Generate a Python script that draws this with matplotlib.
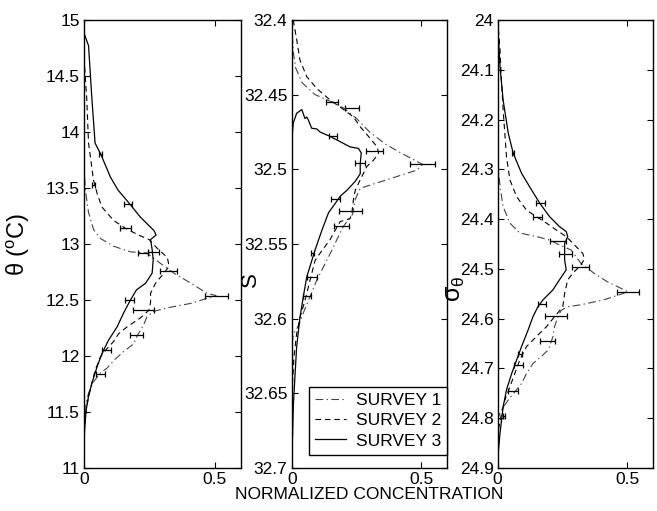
'''
Normalized concentration profiles vs theta, S and sigma-theta
'''

import matplotlib
matplotlib.use('Agg')
import matplotlib.pyplot as plt

plt.rcParams['font.family'] = ['Liberation Sans', 'DejaVu Sans']
plt.rcParams['mathtext.fontset'] = 'custom'
plt.rcParams['mathtext.rm'] = 'Liberation Sans'
plt.rcParams['mathtext.it'] = 'Liberation Sans'

SURVEYS = ['SURVEY 1', 'SURVEY 2', 'SURVEY 3']

# ---- potential temperature panel ----
theta1_y = [15.0, 14.0, 13.6, 13.5, 13.28, 13.13, 13.05, 12.98, 12.93, 12.92, 12.83,
            12.74, 12.65, 12.56, 12.54, 12.47, 12.43, 12.40, 12.35, 12.28, 12.19,
            12.11, 12.04, 11.96, 11.89, 11.85, 11.77, 11.67, 11.55, 11.4, 11.0]
theta1_x = [0.0, 0.0, 0.002, 0.004, 0.017, 0.036, 0.062, 0.113, 0.177, 0.24, 0.29,
            0.343, 0.408, 0.47, 0.504, 0.408, 0.318, 0.267, 0.24, 0.228, 0.205,
            0.19, 0.151, 0.113, 0.087, 0.062, 0.036, 0.017, 0.004, 0.0, 0.0]
theta2_y = [15.0, 14.7, 14.58, 14.3, 13.9, 13.57, 13.45, 13.33, 13.21, 13.14, 13.08,
            13.04, 12.96, 12.88, 12.8, 12.74, 12.65, 12.56, 12.48, 12.41, 12.34,
            12.26, 12.2, 12.13, 12.06, 11.99, 11.87, 11.76, 11.64, 11.52, 11.3, 11.0]
theta2_x = [0.0, 0.0, 0.002, 0.01, 0.017, 0.036, 0.05, 0.068, 0.113, 0.158, 0.208,
            0.248, 0.28, 0.318, 0.325, 0.305, 0.273, 0.254, 0.254, 0.248, 0.215,
            0.164, 0.132, 0.113, 0.085, 0.062, 0.042, 0.03, 0.017, 0.008, 0.0, 0.0]
theta3_y = [15.0, 14.88, 14.77, 14.29, 13.9, 13.8, 13.6, 13.48, 13.37, 13.24, 13.12,
            13.08, 13.04, 12.95, 12.86, 12.74, 12.65, 12.59, 12.5, 12.38, 12.26,
            12.14, 12.02, 11.9, 11.76, 11.64, 11.52, 11.35, 11.2, 11.0]
theta3_x = [0.0, 0.0, 0.017, 0.03, 0.042, 0.064, 0.1, 0.13, 0.17, 0.215, 0.267,
            0.275, 0.254, 0.26, 0.264, 0.26, 0.235, 0.2, 0.177, 0.15, 0.126,
            0.093, 0.068, 0.049, 0.03, 0.017, 0.008, 0.002, 0.0, 0.0]
theta_err = [
    ([0.505, 0.225, 0.2, 0.063], [12.54, 12.92, 12.19, 11.84], [0.043, 0.02, 0.026, 0.017]),
    ([0.036, 0.158, 0.323, 0.228], [13.53, 13.14, 12.76, 12.41], [0.005, 0.02, 0.033, 0.041]),
    ([0.064, 0.168, 0.265, 0.174, 0.085], [13.8, 13.36, 12.93, 12.5, 12.05],
     [0.006, 0.014, 0.022, 0.016, 0.017]),
]

# ---- salinity panel ----
sal1_y = [32.4, 32.42, 32.432, 32.442, 32.45, 32.455, 32.459, 32.466, 32.475, 32.483,
          32.489, 32.4967, 32.5005, 32.5127, 32.52, 32.53, 32.538, 32.547, 32.552,
          32.561, 32.574, 32.585, 32.596, 32.605, 32.61, 32.62, 32.7]
sal1_x = [0.0, 0.005, 0.015, 0.04, 0.09, 0.155, 0.2, 0.25, 0.3, 0.36,
          0.42, 0.504, 0.483, 0.264, 0.245, 0.235, 0.2, 0.174, 0.161,
          0.135, 0.097, 0.071, 0.045, 0.026, 0.006, 0.0, 0.0]
sal2_y = [32.4, 32.413, 32.427, 32.438, 32.446, 32.4536, 32.46, 32.465, 32.4715, 32.478,
          32.485, 32.489, 32.494, 32.498, 32.507, 32.514, 32.52, 32.529, 32.533, 32.535,
          32.541, 32.547, 32.556, 32.561, 32.574, 32.588, 32.599, 32.61, 32.625, 32.64,
          32.65, 32.7]
sal2_x = [0.006, 0.019, 0.032, 0.058, 0.097, 0.148, 0.2, 0.238, 0.264, 0.296,
          0.329, 0.335, 0.315, 0.29, 0.264, 0.245, 0.238, 0.232, 0.225, 0.187,
          0.167, 0.148, 0.11, 0.09, 0.071, 0.051, 0.032, 0.019, 0.009, 0.004,
          0.0, 0.0]
sal3_y = [32.482, 32.475, 32.469, 32.4625, 32.46, 32.466, 32.465, 32.467, 32.4725, 32.473,
          32.475, 32.478, 32.4815, 32.485, 32.486, 32.489, 32.496, 32.503, 32.508, 32.514,
          32.518, 32.523, 32.529, 32.541, 32.554, 32.572, 32.585, 32.599, 32.608, 32.619,
          32.637, 32.659, 32.68, 32.7]
sal3_x = [0.0, 0.003, 0.006, 0.019, 0.039, 0.051, 0.058, 0.064, 0.077, 0.097,
          0.109, 0.148, 0.187, 0.225, 0.257, 0.268, 0.264, 0.264, 0.245, 0.213,
          0.187, 0.167, 0.142, 0.116, 0.09, 0.058, 0.045, 0.032, 0.026, 0.019,
          0.013, 0.006, 0.003, 0.0]
sal_err = [
    ([0.155, 0.504, 0.192, 0.06], [32.4547, 32.4967, 32.538, 32.585], [0.022, 0.047, 0.029, 0.016]),
    ([0.232, 0.32, 0.227, 0.078], [32.459, 32.488, 32.528, 32.572], [0.028, 0.032, 0.043, 0.02]),
    ([0.16, 0.262, 0.17, 0.08], [32.478, 32.496, 32.52, 32.556], [0.016, 0.02, 0.018, 0.005]),
]

# ---- sigma-theta panel ----
sig1_y = [24.0, 24.29, 24.335, 24.375, 24.408, 24.428, 24.435, 24.442, 24.452, 24.462,
          24.489, 24.509, 24.526, 24.542, 24.546, 24.562, 24.572, 24.576, 24.583, 24.596,
          24.616, 24.636, 24.656, 24.663, 24.676, 24.69, 24.71, 24.73, 24.747, 24.763,
          24.783, 24.8, 24.9]
sig1_x = [0.0, 0.002, 0.009, 0.021, 0.047, 0.085, 0.149, 0.2, 0.238, 0.283,
          0.321, 0.372, 0.423, 0.487, 0.502, 0.41, 0.321, 0.27, 0.245, 0.232,
          0.219, 0.213, 0.2, 0.194, 0.168, 0.136, 0.111, 0.092, 0.066, 0.041,
          0.015, 0.0, 0.0]
sig2_y = [24.0, 24.06, 24.127, 24.18, 24.275, 24.321, 24.355, 24.382, 24.395, 24.408,
          24.422, 24.435, 24.455, 24.469, 24.48, 24.492, 24.509, 24.522, 24.549, 24.576,
          24.596, 24.616, 24.636, 24.656, 24.683, 24.71, 24.737, 24.763, 24.79, 24.83, 24.9]
sig2_x = [0.0, 0.009, 0.015, 0.021, 0.034, 0.047, 0.073, 0.111, 0.149, 0.188,
          0.226, 0.264, 0.302, 0.328, 0.334, 0.321, 0.289, 0.27, 0.258, 0.251,
          0.219, 0.188, 0.149, 0.111, 0.085, 0.066, 0.047, 0.028, 0.015, 0.0, 0.0]
sig3_y = [24.0, 24.027, 24.094, 24.161, 24.228, 24.268, 24.308, 24.341, 24.368, 24.395,
          24.415, 24.425, 24.435, 24.449, 24.455, 24.482, 24.502, 24.522, 24.542, 24.562,
          24.576, 24.596, 24.623, 24.656, 24.683, 24.71, 24.743, 24.777, 24.83, 24.87, 24.9]
sig3_x = [0.0, 0.002, 0.009, 0.021, 0.041, 0.06, 0.092, 0.13, 0.162, 0.2,
          0.238, 0.264, 0.27, 0.258, 0.258, 0.258, 0.264, 0.238, 0.213, 0.175,
          0.155, 0.136, 0.117, 0.092, 0.073, 0.054, 0.034, 0.021, 0.009, 0.002, 0.0]
sig_err = [
    ([0.232, 0.502, 0.192, 0.059], [24.443, 24.546, 24.645, 24.745], [0.032, 0.043, 0.027, 0.02]),
    ([0.153, 0.318, 0.226, 0.081], [24.395, 24.496, 24.594, 24.693], [0.017, 0.032, 0.042, 0.017]),
    ([0.06, 0.164, 0.262, 0.171, 0.085, 0.025], [24.268, 24.368, 24.47, 24.57, 24.67, 24.796],
     [0.004, 0.017, 0.024, 0.016, 0.008, 0.005]),
]

LINE_STYLES = [
    dict(color='#444444', linestyle=(0, (7, 3, 1.2, 3)), linewidth=0.8),
    dict(color='black', linestyle=(0, (5, 3.5)), linewidth=0.8),
    dict(color='black', linestyle='-', linewidth=0.9),
]


def draw_panel(ax, profiles, errors, ylim, yticks, yticklabels):
    '''
    Draw the three survey profiles with their error bars on one axis
    '''
    for (xs, ys), (ex, ey, ew), style, label in zip(profiles, errors, LINE_STYLES, SURVEYS):
        ax.plot(xs, ys, label=label, **style)
        ax.errorbar(ex, ey, xerr=ew, fmt='none', ecolor='black', elinewidth=0.9,
                    capsize=2.5, capthick=0.9)
    ax.set_xlim(0, 0.6)
    ax.set_ylim(ylim[1], ylim[0])
    ax.set_yticks(yticks)
    ax.set_yticklabels(yticklabels)
    ax.set_xticks([0, 0.5])
    ax.set_xticklabels(['0', '0.5'])
    ax.tick_params(direction='in', length=4, width=0.8, top=True, right=True,
                   labelsize=12.5, pad=3)
    for spine in ax.spines.values():
        spine.set_linewidth(1.0)


def run():
    '''
    Build the three-panel figure and save it
    '''
    fig = plt.figure(figsize=(6.57, 5.11), dpi=100)
    ax1 = fig.add_axes([0.128, 0.084, 0.239, 0.877])
    ax2 = fig.add_axes([0.444, 0.084, 0.237, 0.877])
    ax3 = fig.add_axes([0.7575, 0.084, 0.237, 0.877])

    t_ticks = [11, 11.5, 12, 12.5, 13, 13.5, 14, 14.5, 15]
    draw_panel(ax1, [(theta1_x, theta1_y), (theta2_x, theta2_y), (theta3_x, theta3_y)],
               theta_err, (11, 15), t_ticks, [f'{t:g}' for t in t_ticks])
    ax1.set_ylim(11, 15)

    s_ticks = [32.4, 32.45, 32.5, 32.55, 32.6, 32.65, 32.7]
    draw_panel(ax2, [(sal1_x, sal1_y), (sal2_x, sal2_y), (sal3_x, sal3_y)],
               sal_err, (32.4, 32.7), s_ticks, [f'{t:g}' for t in s_ticks])

    g_ticks = [24.0, 24.1, 24.2, 24.3, 24.4, 24.5, 24.6, 24.7, 24.8, 24.9]
    draw_panel(ax3, [(sig1_x, sig1_y), (sig2_x, sig2_y), (sig3_x, sig3_y)],
               sig_err, (24.0, 24.9), g_ticks, [f'{t:g}' for t in g_ticks])

    ax1.set_ylabel(r'$\theta$ ($^{\rm o}$C)', fontsize=17)
    ax1.yaxis.set_label_coords(-0.33, 0.5)
    ax2.set_ylabel('S', fontsize=16)
    ax2.yaxis.set_label_coords(-0.2, 0.42)
    ax3.set_ylabel(r'$\sigma_{\theta}$', fontsize=18)
    ax3.yaxis.set_label_coords(-0.2, 0.40)
    ax2.set_xlabel('NORMALIZED CONCENTRATION', fontsize=12.5, labelpad=0)

    leg = ax2.legend(loc='lower right', bbox_to_anchor=(1.0, 0.03), fontsize=12.5,
                     fancybox=False, framealpha=1, edgecolor='black',
                     handlelength=1.75, borderpad=0.35, labelspacing=0.3,
                     borderaxespad=0.0, handletextpad=0.6)
    leg.get_frame().set_linewidth(1.0)

    fig.savefig('out.png', dpi=100)


run()
